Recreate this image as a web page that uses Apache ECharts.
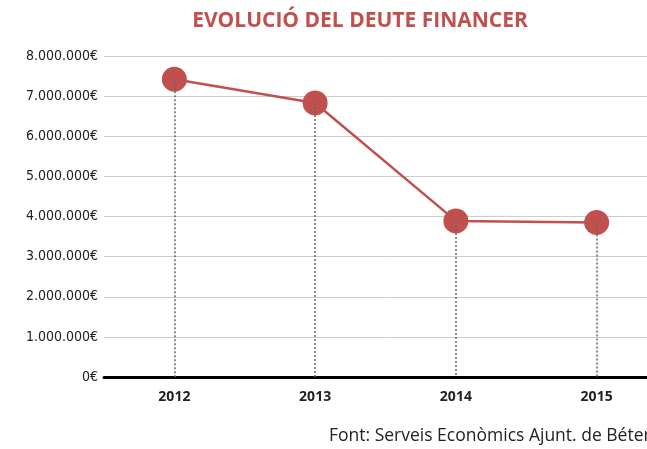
<!DOCTYPE html>
<html>
<head>
<meta charset="utf-8">
<script src="https://cdn.jsdelivr.net/npm/echarts@6/dist/echarts.min.js"></script>
<style>
  html, body { margin: 0; padding: 0; background: #fff; overflow: hidden; }
  /* the original picture is cropped on the right, so the chart is wider than the window */
  #chart { width: 667px; height: 449px; }
</style>
</head>
<body>
<div id="chart"></div>
<script>
// values
const years = ['2012', '2013', '2014', '2015']
const debt = [7420000, 6830000, 3890000, 3850000]
const yTicks = [0, 1000000, 2000000, 3000000, 4000000, 5000000, 6000000, 7000000, 8000000]

const red = '#c0504d'

function euro (v) {
  return String(v).replace(/\B(?=(\d{3})+(?!\d))/g, '.') + '€'
}

const chart = echarts.init(document.getElementById('chart'))

// dotted drop lines from each point to the axis
const drops = years.map((y, i) => [{ coord: [i, debt[i]] }, { coord: [i, 0] }])

chart.setOption({
  animation: false,
  title: {
    text: 'EVOLUCIÓ DEL DEUTE FINANCER',
    left: 355,
    top: 6,
    textAlign: 'center',
    textStyle: {
      color: red,
      fontFamily: 'Open Sans',
      fontWeight: 'bold',
      fontSize: 21
    }
  },
  graphic: [
    {
      type: 'text',
      left: 329,
      top: 427,
      style: {
        text: 'Font: Serveis Econòmics Ajunt. de Béter',
        fill: '#222',
        font: '17.5px "Open Sans"'
      }
    }
  ],
  grid: {
    left: 104,
    right: 0,
    top: 56,
    bottom: 72
  },
  xAxis: {
    type: 'category',
    data: years,
    axisLine: { lineStyle: { color: '#000', width: 3 } },
    axisTick: { show: false },
    axisLabel: {
      margin: 13,
      color: '#222',
      fontFamily: 'Open Sans',
      fontWeight: 'bold',
      fontSize: 14
    }
  },
  yAxis: {
    type: 'value',
    min: yTicks[0],
    max: yTicks[yTicks.length - 1],
    interval: yTicks[1] - yTicks[0],
    axisLine: { show: false },
    axisTick: { show: false },
    axisLabel: {
      margin: 6,
      color: '#222',
      fontFamily: 'DejaVu Sans Condensed',
      fontSize: 14,
      formatter: euro
    },
    splitLine: { lineStyle: { color: '#cccccc', width: 1 } }
  },
  series: [
    {
      type: 'line',
      data: debt,
      symbol: 'circle',
      symbolSize: 25,
      itemStyle: { color: red },
      lineStyle: { color: red, width: 2.5 },
      markLine: {
        silent: true,
        symbol: 'none',
        label: { show: false },
        lineStyle: { color: '#666', type: [2, 2], width: 1.5 },
        data: drops
      }
    }
  ]
})
</script>
</body>
</html>
